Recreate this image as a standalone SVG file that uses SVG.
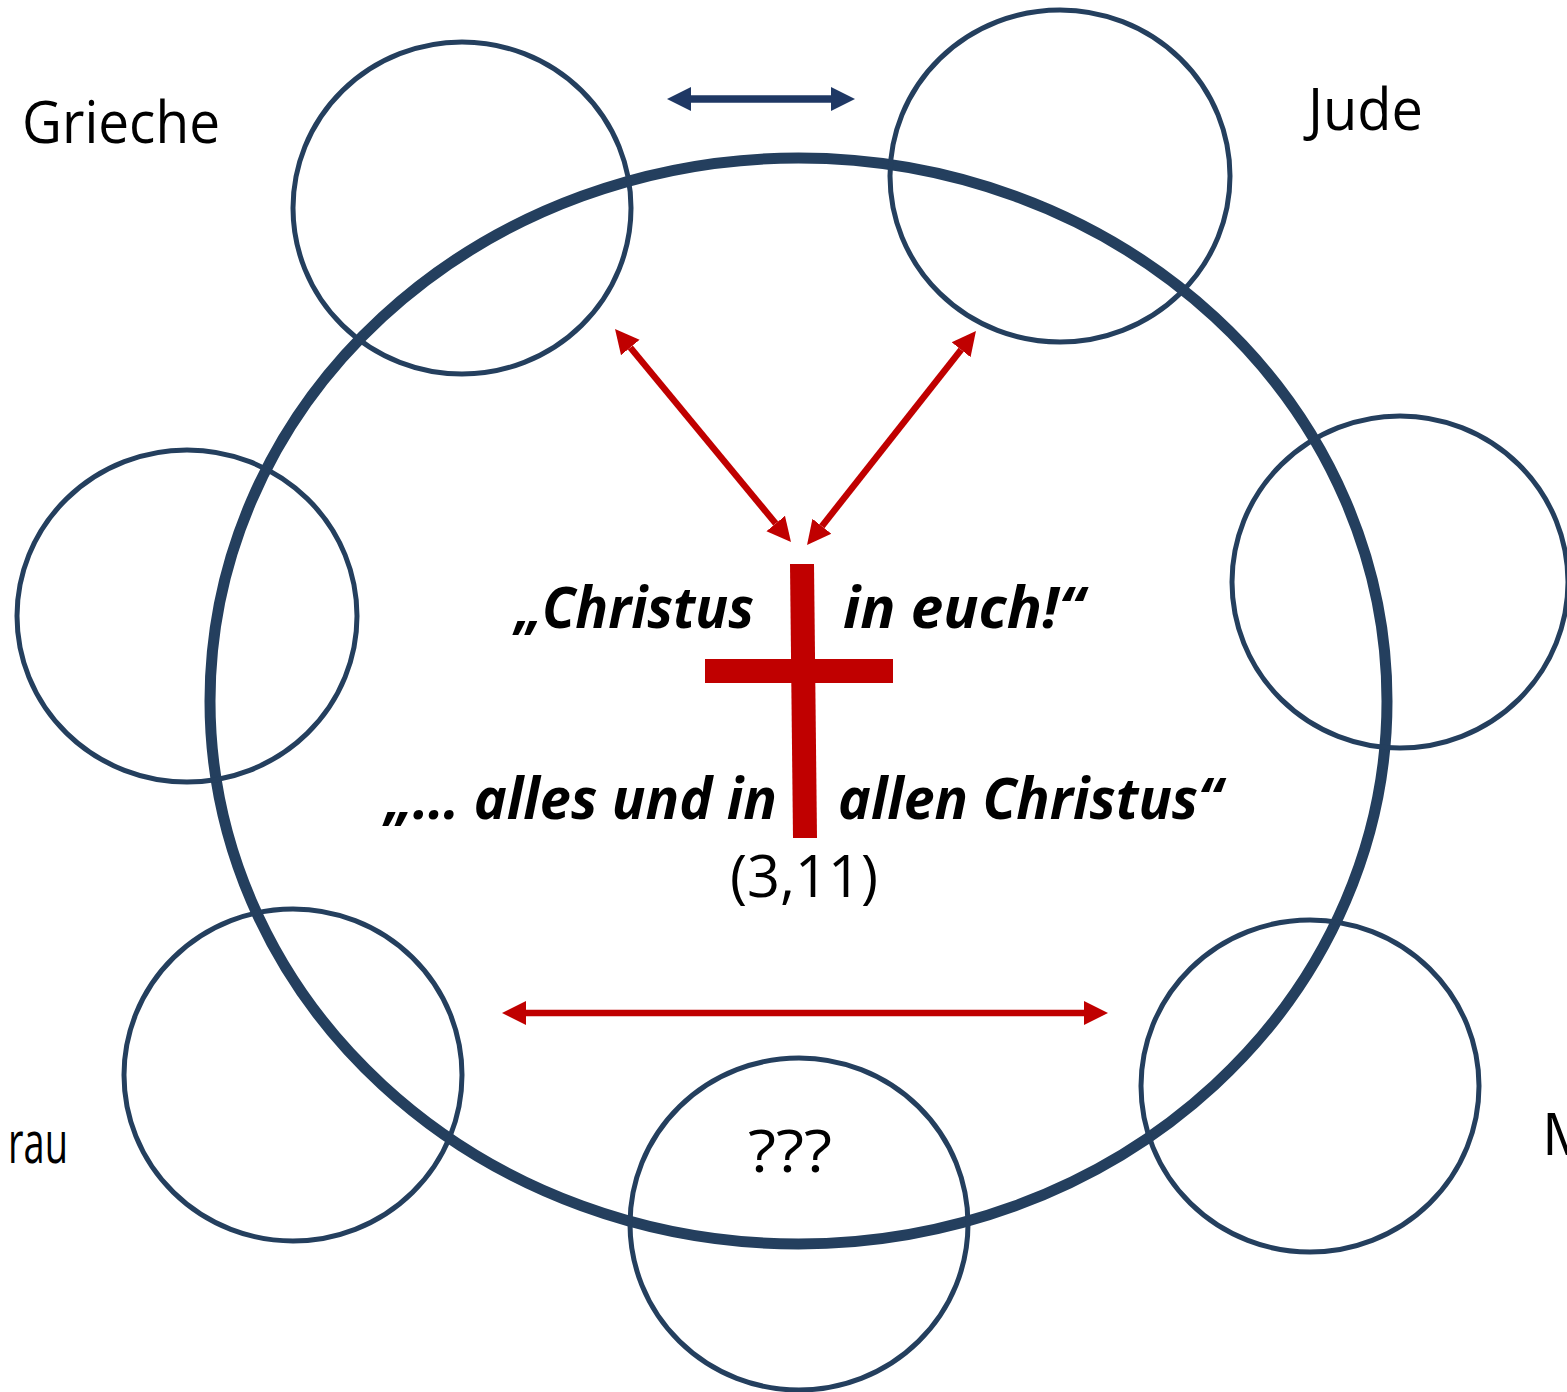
<svg xmlns="http://www.w3.org/2000/svg" width="1567" height="1392" viewBox="0 0 1567 1392">
  <style>
    .ring { fill: none; stroke: #243f5e; stroke-width: 11; }
    .node { fill: none; stroke: #243f5e; stroke-width: 5; }
    .lbl { font-family: "Open Sans", "Noto Sans", "Liberation Sans", sans-serif; font-size: 58px; fill: #000; }
    .quote { font-family: "Open Sans", "Noto Sans", "Liberation Sans", sans-serif; font-size: 57px; font-weight: bold; font-style: italic; fill: #000; }
    .red { fill: none; stroke: #c00000; stroke-width: 6.5; }
    .blue { fill: none; stroke: #1f3864; stroke-width: 7.5; }
  </style>
  <defs>
    <marker id="headRed" markerUnits="userSpaceOnUse" markerWidth="26" markerHeight="26" viewBox="0 -13 26 26" refX="0" refY="0" orient="auto-start-reverse">
      <path d="M0,-12 L24,0 L0,12 Z" fill="#c00000"/>
    </marker>
    <marker id="headBlue" markerUnits="userSpaceOnUse" markerWidth="26" markerHeight="26" viewBox="0 -13 26 26" refX="0" refY="0" orient="auto-start-reverse">
      <path d="M0,-12 L24,0 L0,12 Z" fill="#1f3864"/>
    </marker>
  </defs>
  <rect width="1567" height="1392" fill="#ffffff"/>

  <g id="ring">
    <ellipse class="ring" cx="798.5" cy="701" rx="588.5" ry="543"/>
  </g>

  <g id="node-grieche">
    <ellipse class="node" cx="462" cy="208" rx="169" ry="166"/>
    <text class="lbl" x="22" y="143" textLength="198" lengthAdjust="spacingAndGlyphs">Grieche</text>
  </g>
  <g id="node-jude">
    <ellipse class="node" cx="1060" cy="176" rx="170" ry="166"/>
    <text class="lbl" x="1308" y="130" textLength="115" lengthAdjust="spacingAndGlyphs">Jude</text>
  </g>
  <g id="node-left">
    <ellipse class="node" cx="187" cy="616" rx="170" ry="166"/>
  </g>
  <g id="node-right">
    <ellipse class="node" cx="1400" cy="582" rx="168" ry="166"/>
  </g>
  <g id="node-frau">
    <ellipse class="node" cx="293" cy="1075" rx="169" ry="166"/>
    <text class="lbl" x="8" y="1163" textLength="60" lengthAdjust="spacingAndGlyphs">rau</text>
  </g>
  <g id="node-unknown">
    <ellipse class="node" cx="799" cy="1224" rx="169" ry="166"/>
    <text class="lbl" x="748" y="1172" textLength="84" lengthAdjust="spacingAndGlyphs">???</text>
  </g>
  <g id="node-mann">
    <ellipse class="node" cx="1310" cy="1086" rx="169" ry="166"/>
    <text class="lbl" x="1542" y="1155">M</text>
  </g>

  <g id="center">
    <polygon points="790,564 814,564 817,838 793,838" fill="#c00000"/>
    <rect x="705" y="659" width="188" height="24" fill="#c00000"/>
    <text class="quote" x="515" y="628" textLength="239" lengthAdjust="spacingAndGlyphs">„Christus</text>
    <text class="quote" x="843" y="628" textLength="241" lengthAdjust="spacingAndGlyphs">in euch!“</text>
    <text class="quote" x="385" y="819" textLength="392" lengthAdjust="spacingAndGlyphs">„… alles und in</text>
    <text class="quote" x="838" y="819" textLength="384" lengthAdjust="spacingAndGlyphs">allen Christus“</text>
    <text class="lbl" x="730" y="897" font-size="51" textLength="148" lengthAdjust="spacingAndGlyphs">(3,11)</text>
  </g>

  <g id="connectors">
    <line class="blue" x1="691" y1="99" x2="831" y2="99" marker-start="url(#headBlue)" marker-end="url(#headBlue)"/>
    <line class="red" x1="630.3" y1="347.5" x2="775.7" y2="523.5" marker-start="url(#headRed)" marker-end="url(#headRed)"/>
    <line class="red" x1="961.1" y1="349.8" x2="821.9" y2="526.2" marker-start="url(#headRed)" marker-end="url(#headRed)"/>
    <line class="red" x1="526" y1="1013" x2="1084" y2="1013" marker-start="url(#headRed)" marker-end="url(#headRed)"/>
  </g>
</svg>
